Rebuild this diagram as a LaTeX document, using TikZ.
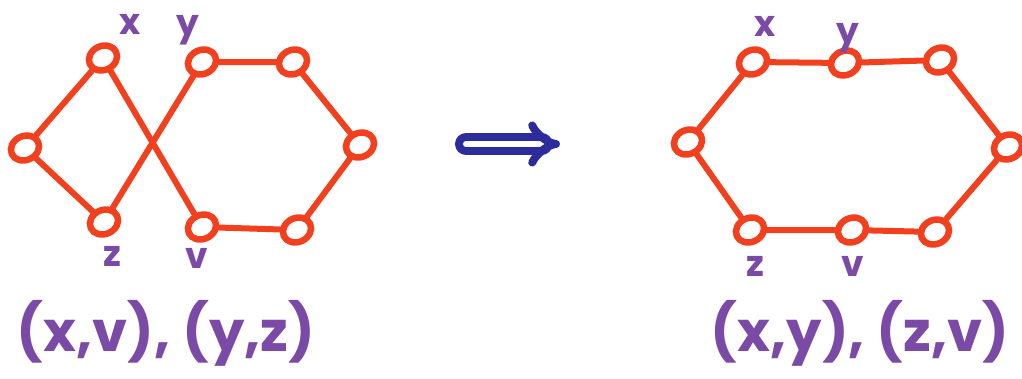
\documentclass[tikz,border=0pt]{standalone}
\usepackage{fontspec}
\setmainfont{Poppins}
\usetikzlibrary{shapes.geometric,arrows.meta}
\definecolor{redline}{HTML}{F2401E}
\definecolor{purp}{HTML}{7A4AA6}
\definecolor{arrowblue}{HTML}{2C2C9C}
\begin{document}
\begin{tikzpicture}[x=1pt,y=-1pt,
  vtx/.style={ellipse,draw=redline,line width=6.5pt,fill=white,minimum width=29pt,minimum height=24pt,inner sep=0pt,rotate=25},
  edge/.style={draw=redline,line width=6pt,line cap=round},
  lbl/.style={text=purp,font=\bfseries\fontsize{36}{36}\selectfont,inner sep=0pt},
  pair/.style={text=purp,font=\bfseries\fontsize{56}{56}\selectfont,inner sep=0pt},
  bigarrow/.style={draw=arrowblue,line width=8pt,double distance=6pt,-{Implies[scale=1.4]},line cap=round}]
\useasboundingbox (0,0) rectangle (1022,378);
% left graph
\node[vtx] (lx) at (103,58) {};
\node[vtx] (ly) at (202,62) {};
\node[vtx] (ltr) at (293,62) {};
\node[vtx] (lr) at (360,145) {};
\node[vtx] (lbr) at (297,230) {};
\node[vtx] (lv) at (202,227) {};
\node[vtx] (lz) at (104,222) {};
\node[vtx] (ll) at (25,148) {};
\draw[edge] (ll) -- (lx);
\draw[edge] (ll) -- (lz);
\draw[edge] (lx) -- (lv);
\draw[edge] (lz) -- (ly);
\draw[edge] (ly) -- (ltr);
\draw[edge] (ltr) -- (lr);
\draw[edge] (lr) -- (lbr);
\draw[edge] (lbr) -- (lv);
\node[lbl] (tlx) at (130,24) {x};
\node[lbl] (tly) at (188,30) {y};
\node[lbl] (tlz) at (112,256) {z};
\node[lbl] (tlv) at (197,258) {v};
% right graph
\node[vtx] (rx) at (753,62) {};
\node[vtx] (ry) at (845,63) {};
\node[vtx] (rtr) at (940,60) {};
\node[vtx] (rr) at (1008,147) {};
\node[vtx] (rbr) at (935,232) {};
\node[vtx] (rv) at (852,230) {};
\node[vtx] (rz) at (750,230) {};
\node[vtx] (rl) at (688,142) {};
\draw[edge] (rx) -- (rl);
\draw[edge] (rl) -- (rz);
\draw[edge] (rz) -- (rv);
\draw[edge] (rv) -- (rbr);
\draw[edge] (rbr) -- (rr);
\draw[edge] (rr) -- (rtr);
\draw[edge] (rtr) -- (ry);
\draw[edge] (ry) -- (rx);
\node[lbl] (trx) at (765,26) {x};
\node[lbl] (try) at (848,38) {y};
\node[lbl] (trz) at (755,266) {z};
\node[lbl] (trv) at (853,266) {v};
% arrow
\coordinate (a1) at (466,144);
\coordinate (a2) at (560,144);
\draw[bigarrow] (a1) -- (a2);
% pairs
\node[pair] (pl) at (166,333) {(x,v), (y,z)};
\node[pair] (pr) at (860,333) {(x,y), (z,v)};
\end{tikzpicture}
\end{document}
